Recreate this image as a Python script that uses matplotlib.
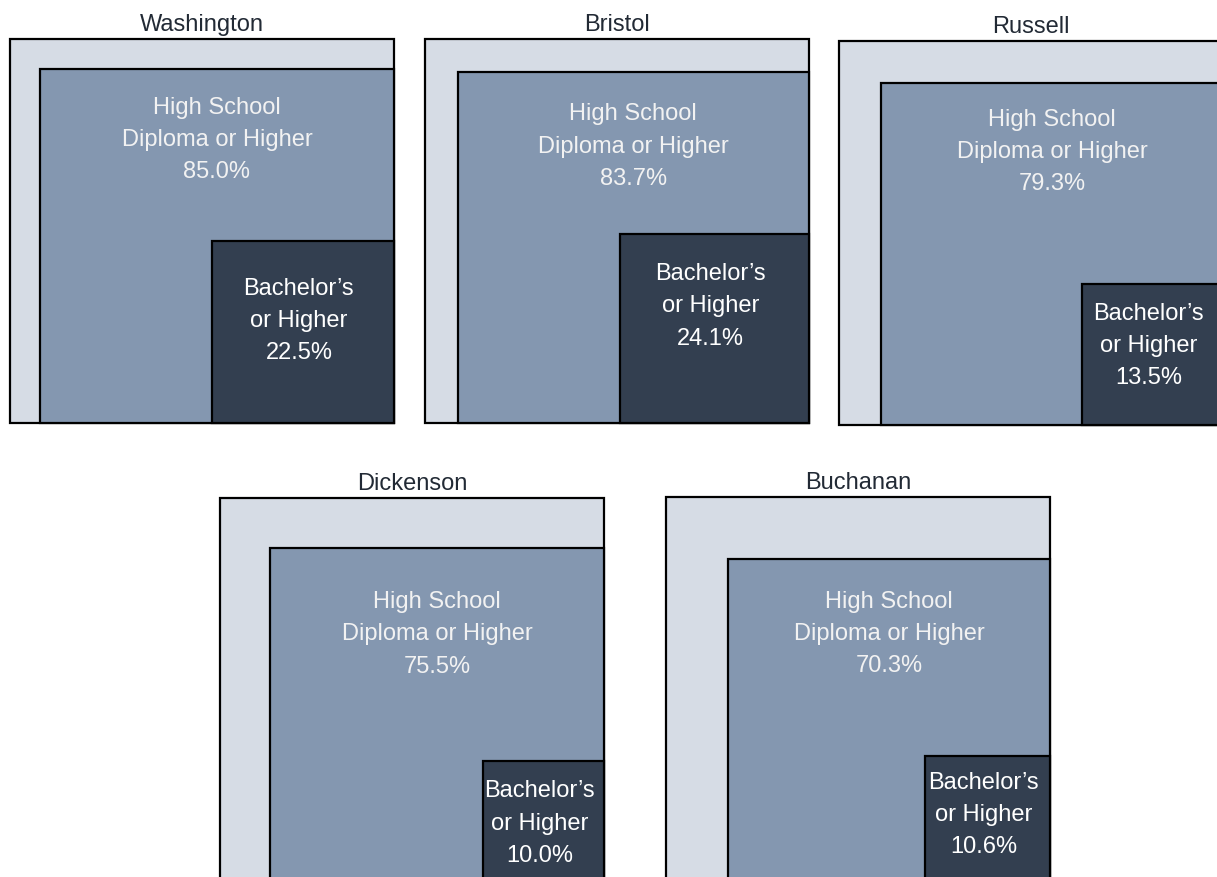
import matplotlib.pyplot as plt
from matplotlib.patches import Rectangle
import numpy as np

# Daten
counties = ['Washington', 'Bristol', 'Russell', 'Dickenson', 'Buchanan']
high_school = [85.0, 83.7, 79.3, 75.5, 70.3]
bachelors = [22.5, 24.1, 13.5, 10.0, 10.6]

# Layout: aeussere Quadrate (links, oben in Pixel), Abstand der Beschriftung zur Oberkante
panel_pos = [(10, 39), (425, 39), (839, 41), (220, 498), (666, 497)]
hs_label_dy = [71, 75, 69, 86, 75]
ba_label_dy = [80, 72, 62, 63, 59]
side = 384
W, H = 1217, 877

c_outer = '#d6dce5'
c_hs = '#8497b0'
c_ba = '#333f50'

plt.rcParams['font.family'] = ['Liberation Sans', 'DejaVu Sans']

fig = plt.figure(figsize=(W / 100, H / 100), dpi=100)

for i, (name, hs, ba) in enumerate(zip(counties, high_school, bachelors)):
    left, top = panel_pos[i]
    ax = fig.add_axes([left / W, (H - top - side) / H, side / W, side / H])
    ax.set_xlim(0, 1)
    ax.set_ylim(0, 1)
    ax.axis('off')

    s_hs = np.sqrt(hs / 100)
    s_ba = np.sqrt(ba / 100)

    ax.add_patch(Rectangle((0, 0), 1, 1, facecolor=c_outer, edgecolor='black', lw=1.6, clip_on=False))
    ax.add_patch(Rectangle((1 - s_hs, 0), s_hs, s_hs, facecolor=c_hs, edgecolor='black', lw=1.6, clip_on=False))
    ax.add_patch(Rectangle((1 - s_ba, 0), s_ba, s_ba, facecolor=c_ba, edgecolor='black', lw=1.6, clip_on=False))

    ax.text(1 - s_hs / 2, s_hs - hs_label_dy[i] / side, 'High School\nDiploma or Higher\n%.1f%%' % hs,
            ha='center', va='center', color='#f2f2f2', fontsize=17, linespacing=1.6)
    ax.text(1 - s_ba / 2 - 4 / side, s_ba - ba_label_dy[i] / side, 'Bachelor\u2019s\nor Higher\n%.1f%%' % ba,
            ha='center', va='center', color='white', fontsize=17, linespacing=1.6)

    ax.text(0.5, 1 + 8 / side, name, ha='center', va='baseline',
            fontsize=17, color='#222a35')

fig.savefig('out.png', dpi=100)
